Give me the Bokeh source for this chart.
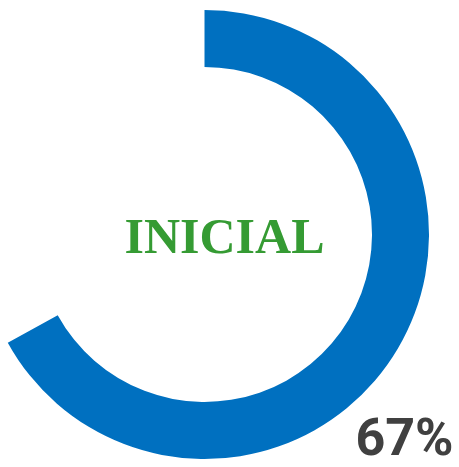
import math
from bokeh.plotting import figure
from bokeh.models import Range1d
from bokeh.core.properties import value
from bokeh.embed import file_html
from bokeh.resources import INLINE

# data
percent = [67]
label_center = ["INICIAL"]
label_value = ["67%"]

p = figure(width=459, height=467, output_backend="svg", toolbar_location=None,
           x_range=Range1d(-204, 255), y_range=Range1d(-233, 234),
           min_border=0)
p.axis.visible = False
p.grid.visible = False
p.outline_line_color = None
p.background_fill_color = "white"

start = math.pi / 2
end = start - 2 * math.pi * percent[0] / 100.0
p.annular_wedge(x=0, y=0, inner_radius=167.5, outer_radius=224.5,
                start_angle=start, end_angle=end, direction="clock",
                fill_color="#0070c0", line_color=None)

p.text(x=[20], y=[-1], text=label_center, text_align="center",
       text_baseline="alphabetic", text_color="#359b33",
       text_font=value("Liberation Serif"), text_font_style="bold",
       text_font_size="50px")

p.text(x=[249], y=[-203], text=label_value, text_align="right",
       text_baseline="alphabetic", text_color="#404040",
       text_font=value("Roboto"), text_font_style="bold",
       text_font_size="52px")

open("out.html", "w").write(file_html(p, INLINE))
